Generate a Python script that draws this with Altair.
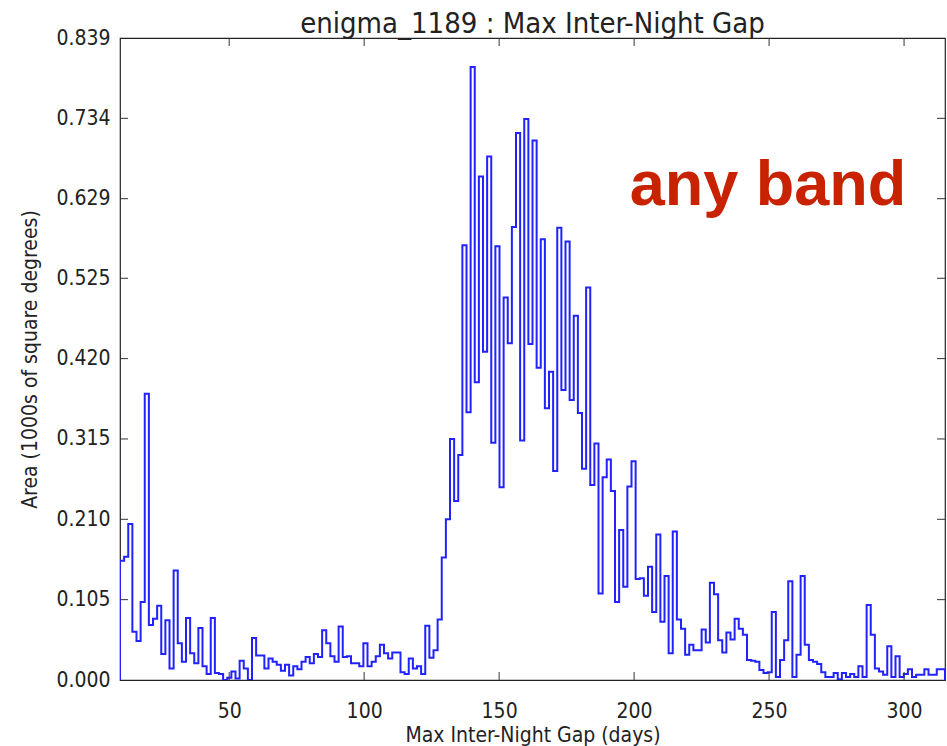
import altair as alt
import pandas as pd

# Histogram of the maximum gap between nights (days), area in 1000s of sq. degrees
bin_start = 9.56      # left edge of the first bin (days)
bin_width = 1.528     # width of each bin (days)

area = [
    0.156, 0.161, 0.204, 0.063, 0.051, 0.102, 0.374, 0.072, 0.080, 0.097,
    0.034, 0.078, 0.015, 0.143, 0.048, 0.024, 0.081, 0.035, 0.022, 0.068,
    0.018, 0.008, 0.081, 0.009, 0.008, 0.000, 0.003, 0.011, 0.002, 0.025,
    0.015, 0.000, 0.055, 0.032, 0.032, 0.015, 0.028, 0.024, 0.020, 0.012,
    0.020, 0.006, 0.018, 0.014, 0.024, 0.030, 0.022, 0.034, 0.030, 0.065,
    0.048, 0.031, 0.024, 0.070, 0.030, 0.031, 0.022, 0.022, 0.018, 0.048,
    0.018, 0.024, 0.031, 0.046, 0.035, 0.028, 0.036, 0.036, 0.010, 0.008,
    0.028, 0.015, 0.018, 0.008, 0.071, 0.029, 0.039, 0.079, 0.160, 0.210,
    0.315, 0.234, 0.294, 0.568, 0.350, 0.801, 0.389, 0.658, 0.429, 0.684,
    0.310, 0.567, 0.252, 0.500, 0.440, 0.592, 0.715, 0.313, 0.733, 0.439,
    0.705, 0.408, 0.576, 0.355, 0.403, 0.273, 0.591, 0.379, 0.573, 0.366,
    0.476, 0.349, 0.276, 0.513, 0.255, 0.309, 0.113, 0.265, 0.288, 0.247,
    0.102, 0.196, 0.122, 0.253, 0.286, 0.132, 0.133, 0.110, 0.148, 0.089,
    0.190, 0.076, 0.136, 0.035, 0.194, 0.079, 0.067, 0.033, 0.046, 0.039,
    0.039, 0.066, 0.049, 0.127, 0.112, 0.052, 0.036, 0.062, 0.053, 0.080,
    0.067, 0.059, 0.026, 0.025, 0.024, 0.013, 0.009, 0.010, 0.089, 0.004,
    0.026, 0.052, 0.129, 0.004, 0.033, 0.136, 0.046, 0.026, 0.024, 0.021,
    0.010, 0.004, 0.004, 0.009, 0.001, 0.009, 0.004, 0.008, 0.004, 0.018,
    0.004, 0.098, 0.059, 0.015, 0.011, 0.007, 0.044, 0.004, 0.031, 0.004,
    0.008, 0.014, 0.004, 0.007, 0.007, 0.014, 0.007, 0.007, 0.014, 0.014,
]

x_ticks = [50, 100, 150, 200, 250, 300]
y_ticks = [0.0, 0.105, 0.210, 0.315, 0.420, 0.525, 0.629, 0.734, 0.839]
y_max = 0.839

# Step outline: rise from zero at the left edge, one point per bin, drop at the right edge
edges = [bin_start + i * bin_width for i in range(len(area) + 1)]
step_x = [edges[0]] + edges[:-1] + [edges[-1], edges[-1]]
step_y = [0.0] + area + [area[-1], 0.0]
steps = pd.DataFrame({"gap": step_x, "area": step_y, "order": range(len(step_x))})

FONT = "DejaVu Sans Condensed, Liberation Sans Narrow, DejaVu Sans"
W, H = 825, 642
TICK = 8

x_scale = alt.Scale(domain=[bin_start, edges[-1]], nice=False, zero=False)
y_scale = alt.Scale(domain=[0, y_max], nice=False)

axis_style = dict(labelFont=FONT, titleFont=FONT, labelFontSize=21, titleFontSize=21,
                  labelColor="#222222", titleColor="#222222",
                  titleFontWeight="normal", ticks=False, grid=False, domain=False)

line = alt.Chart(steps).mark_line(
    interpolate="step-after", color="#2222ff", strokeWidth=2, clip=True
).encode(
    x=alt.X("gap:Q", scale=x_scale,
            axis=alt.Axis(values=x_ticks, title="Max Inter-Night Gap (days)",
                          labelPadding=20, titlePadding=3, **axis_style)),
    y=alt.Y("area:Q", scale=y_scale,
            axis=alt.Axis(values=y_ticks, format=".3f",
                          title="Area (1000s of square degrees)",
                          labelPadding=10, titlePadding=15, **axis_style)),
    order="order:Q",
)

# Inward-pointing ticks on all four sides of the frame
xt = pd.DataFrame({"gap": x_ticks})
yt = pd.DataFrame({"area": y_ticks[1:-1]})
tick_style = dict(color="#333333", strokeWidth=1)
x_bottom = alt.Chart(xt).mark_rule(**tick_style).encode(
    x=alt.X("gap:Q", scale=x_scale), y=alt.value(H), y2=alt.value(H - TICK))
x_top = alt.Chart(xt).mark_rule(**tick_style).encode(
    x=alt.X("gap:Q", scale=x_scale), y=alt.value(0), y2=alt.value(TICK))
y_left = alt.Chart(yt).mark_rule(**tick_style).encode(
    y=alt.Y("area:Q", scale=y_scale), x=alt.value(0), x2=alt.value(TICK))
y_right = alt.Chart(yt).mark_rule(**tick_style).encode(
    y=alt.Y("area:Q", scale=y_scale), x=alt.value(W), x2=alt.value(W - TICK))

band = alt.Chart(pd.DataFrame({"t": ["any band"]})).mark_text(
    font="Liberation Sans", fontWeight="bold", fontSize=63, color="#c82200",
    align="center", baseline="middle"
).encode(text="t:N", x=alt.value(648), y=alt.value(148))

chart = alt.layer(line, x_bottom, x_top, y_left, y_right, band).properties(
    width=W, height=H,
    title=alt.TitleParams("enigma_1189 : Max Inter-Night Gap", font=FONT,
                          fontSize=29, fontWeight="normal", color="#222222",
                          anchor="middle", offset=-12),
    autosize=alt.AutoSizeParams(type="none"),
    padding={"left": 120, "top": 38, "right": 2, "bottom": 66},
    background="white",
).configure_view(
    stroke="#222222", strokeWidth=1.2
)

chart.save("out.html", embed_options={"renderer": "svg", "actions": False})
